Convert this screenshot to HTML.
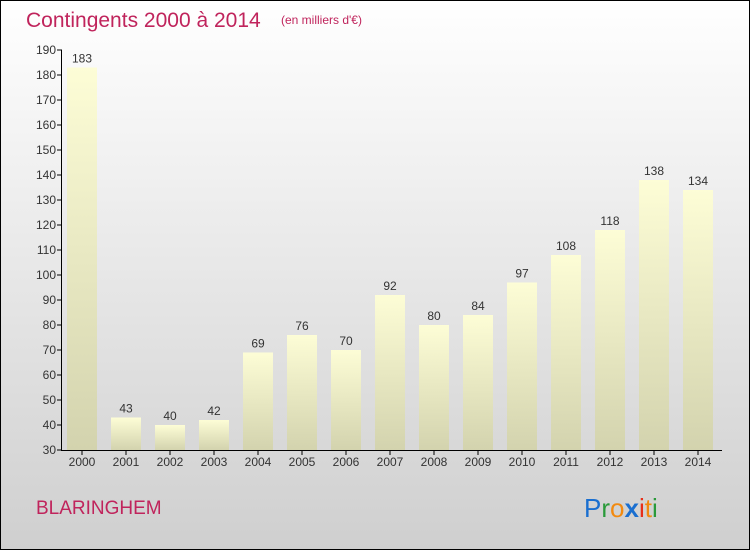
<!DOCTYPE html>
<html><head><meta charset="utf-8"><style>
body{margin:0;width:750px;height:550px;overflow:hidden;font-family:"Liberation Sans",sans-serif}
</style></head><body>
<svg width="750" height="550">
<defs>
<linearGradient id="bg" x1="0" y1="0" x2="0" y2="1"><stop offset="0" stop-color="#ffffff"/><stop offset="1" stop-color="#cfcfcf"/></linearGradient>
<linearGradient id="bar" x1="0" y1="0" x2="0" y2="1"><stop offset="0" stop-color="#fdfdd6"/><stop offset="1" stop-color="#d3d3ae"/></linearGradient>
</defs>
<rect x="0.5" y="0.5" width="749" height="549" fill="url(#bg)" stroke="#000"/>
<text x="26" y="27" font-size="21" fill="#c0245c">Contingents 2000 à 2014</text>
<text x="281" y="24" font-size="12" fill="#c0245c">(en milliers d'€)</text>
<g id="axis"></g><g id="bars"></g>
<text x="36" y="514" font-size="19" fill="#c0245c">BLARINGHEM</text>
<text x="584" y="517" font-size="26"><tspan fill="#1a6fd0">P</tspan><tspan fill="#2a9a3a">r</tspan><tspan fill="#f28a10">o</tspan><tspan fill="#1a6fd0" font-weight="bold">x</tspan><tspan fill="#e8301a">i</tspan><tspan fill="#f28a10">t</tspan><tspan fill="#2a9a3a">i</tspan></text>
</svg>
<script>
const years=["2000","2001","2002","2003","2004","2005","2006","2007","2008","2009","2010","2011","2012","2013","2014"];
const values=[183,43,40,42,69,76,70,92,80,84,97,108,118,138,134];
const ticks=[30,40,50,60,70,80,90,100,110,120,130,140,150,160,170,180,190];
const NS="http://www.w3.org/2000/svg";
const y=v=>450-(v-30)*2.5;
const x=i=>82+i*44;
function mk(t,a,p){const e=document.createElementNS(NS,t);for(const k in a)e.setAttribute(k,a[k]);p.appendChild(e);return e;}
const A=document.getElementById('axis'),B=document.getElementById('bars');
ticks.forEach(t=>{
 mk('line',{x1:57,x2:62,y1:y(t),y2:y(t),stroke:'#000'},A);
 const tx=mk('text',{x:56,y:y(t)+4,'font-size':12,fill:'#333','text-anchor':'end'},A);tx.textContent=t;
 
 
});
mk('line',{x1:61.5,x2:61.5,y1:y(190),y2:450,stroke:'#000'},A);
mk('line',{x1:61,x2:722,y1:450.5,y2:450.5,stroke:'#000'},A);
values.forEach((v,i)=>{
 const r=mk('rect',{x:x(i)-15,y:y(v),width:30,height:450-y(v),fill:'url(#bar)'},B);
 
 
 const t=mk('text',{x:x(i),y:y(v)-5,'font-size':12,fill:'#333','text-anchor':'middle'},B);t.textContent=v;
 
 
 mk('line',{x1:x(i),x2:x(i),y1:450,y2:455,stroke:'#000'},A);
 const xl=mk('text',{x:x(i),y:466,'font-size':12,fill:'#333','text-anchor':'middle'},A);xl.textContent=years[i];
 
 
});
</script>
</body></html>
